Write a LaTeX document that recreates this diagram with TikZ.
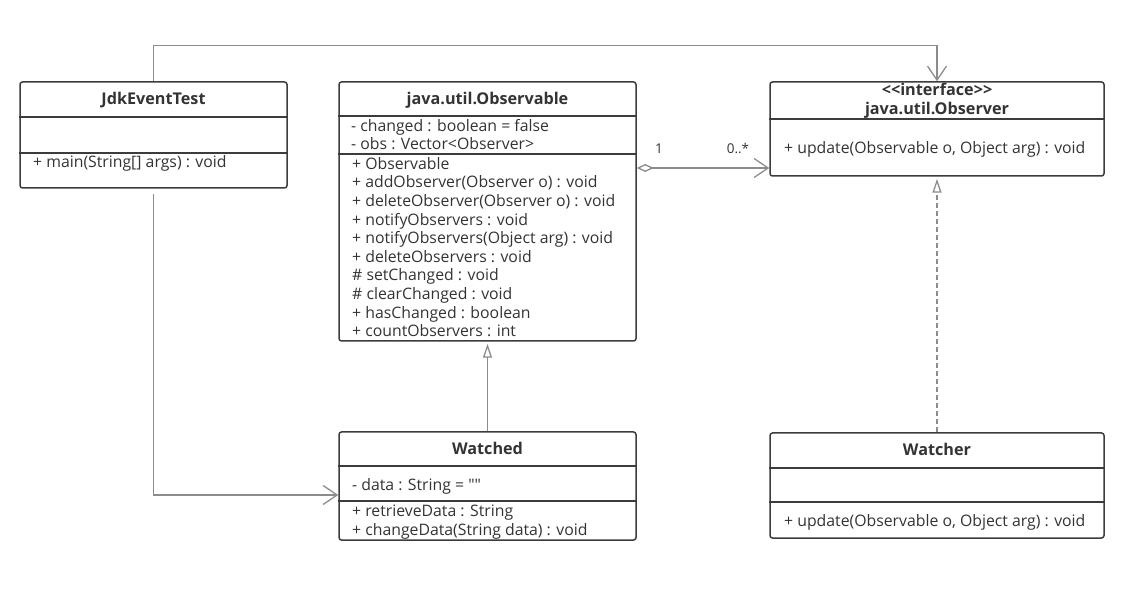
\documentclass[tikz,border=0pt]{standalone}
\usepackage{fontspec}
\newfontfamily\umlfont{Open Sans}
\usetikzlibrary{arrows.meta,positioning}
\definecolor{umlborder}{HTML}{3C3C3C}
\definecolor{umltext}{HTML}{333333}
\definecolor{umlline}{HTML}{8C8C8C}

\begin{document}
\begin{tikzpicture}
	[x=1pt, y=-1pt, inner sep=0pt, text=umltext,
	font=\umlfont\fontsize{15.8}{18.6}\selectfont,
	classbox/.style={draw=umlborder, line width=1.5pt, rounded corners=2.5pt},
	divider/.style={draw=umlborder, line width=1.5pt},
	title/.style={anchor=base, font=\umlfont\fontsize{16.2}{19}\selectfont\bfseries, align=center},
	members/.style={anchor=base west, align=left},
	multiplicity/.style={anchor=base, font=\umlfont\fontsize{13.5}{16}\selectfont},
	connector/.style={draw=umlline, line width=1.3pt},
	dependency/.style={connector, -{Straight Barb[length=14pt, width=19pt]}},
	aggregation/.style={connector, {Diamond[open, length=17pt, width=8pt]}-{Straight Barb[length=14pt, width=19pt]}},
	generalization/.style={connector, -{Triangle[open, length=14pt, width=9pt]}, shorten >=2pt},
	realization/.style={generalization, dash pattern=on 5pt off 3pt}]
	
	\useasboundingbox (0,0) rectangle (1141,601);
	
	% class boxes
	\node[classbox, minimum width=267pt, minimum height=106pt] (jdk_event_test) at (153.5,135)   {};
	\node[classbox, minimum width=297pt, minimum height=259pt] (observable)     at (487.5,211.5) {};
	\node[classbox, minimum width=334pt, minimum height=94pt]  (observer)       at (937,129)     {};
	\node[classbox, minimum width=297pt, minimum height=108pt] (watched)        at (487.5,486)   {};
	\node[classbox, minimum width=334pt, minimum height=105pt] (watcher)        at (937,485.5)   {};
	
	\draw[divider] (jdk_event_test.west |- 0,117) -- (jdk_event_test.east |- 0,117);
	\draw[divider] (jdk_event_test.west |- 0,153) -- (jdk_event_test.east |- 0,153);
	\draw[divider] (observable.west |- 0,116)     -- (observable.east |- 0,116);
	\draw[divider] (observable.west |- 0,154)     -- (observable.east |- 0,154);
	\draw[divider] (observer.west |- 0,119)       -- (observer.east |- 0,119);
	\draw[divider] (watched.west |- 0,466)        -- (watched.east |- 0,466);
	\draw[divider] (watched.west |- 0,501)        -- (watched.east |- 0,501);
	\draw[divider] (watcher.west |- 0,468)        -- (watcher.east |- 0,468);
	\draw[divider] (watcher.west |- 0,502)        -- (watcher.east |- 0,502);
	
	% names and members (base = last line)
	\node[title]   (jdk_event_test_name) at (153.5,105) {JdkEventTest};
	\node[members] (jdk_event_test_ops)  at (33,168)    {+ main(String[] args) : void};
	
	\node[title]   (observable_name)     at (487.5,105) {java.util.Observable};
	\node[members, font=\umlfont\fontsize{15.8}{18.3}\selectfont]
	               (observable_attrs)    at (351,150)   {- changed : boolean = false\\- obs : Vector<Observer>};
	\node[members] (observable_ops)      at (352,336.7) {+ Observable\\+ addObserver(Observer o) : void\\+ deleteObserver(Observer o) : void\\+ notifyObservers : void\\+ notifyObservers(Object arg) : void\\+ deleteObservers : void\\\# setChanged : void\\\# clearChanged : void\\+ hasChanged : boolean\\+ countObservers : int};
	
	\node[title]   (observer_name)       at (937,115)   {<<interface>>\\java.util.Observer};
	\node[members] (observer_ops)        at (784,153.3) {+ update(Observable o, Object arg) : void};
	
	\node[title]   (watched_name)        at (487.5,455) {Watched};
	\node[members] (watched_attrs)       at (352,490)   {- data : String = ""};
	\node[members] (watched_ops)         at (352,535)   {+ retrieveData : String\\+ changeData(String data) : void};
	
	\node[title]   (watcher_name)        at (937,455.5) {Watcher};
	\node[members] (watcher_ops)         at (784,526)   {+ update(Observable o, Object arg) : void};
	
	\node[multiplicity] (mult_one)  at (659,154) {1};
	\node[multiplicity] (mult_many) at (738,154) {0..*};
	
	% relations
	\draw[dependency] (jdk_event_test.north) -- ++(0,-36) -| (observer.north);
	\draw[dependency, shorten <=5pt] (jdk_event_test.south) |- (watched.west |- 0,495);
	\draw[aggregation] (observable.east |- 0,168) -- (observer.west |- 0,168);
	\draw[generalization] (watched.north) -- (observable.south);
	\draw[realization] (watcher.north) -- (observer.south);
\end{tikzpicture}
\end{document}
